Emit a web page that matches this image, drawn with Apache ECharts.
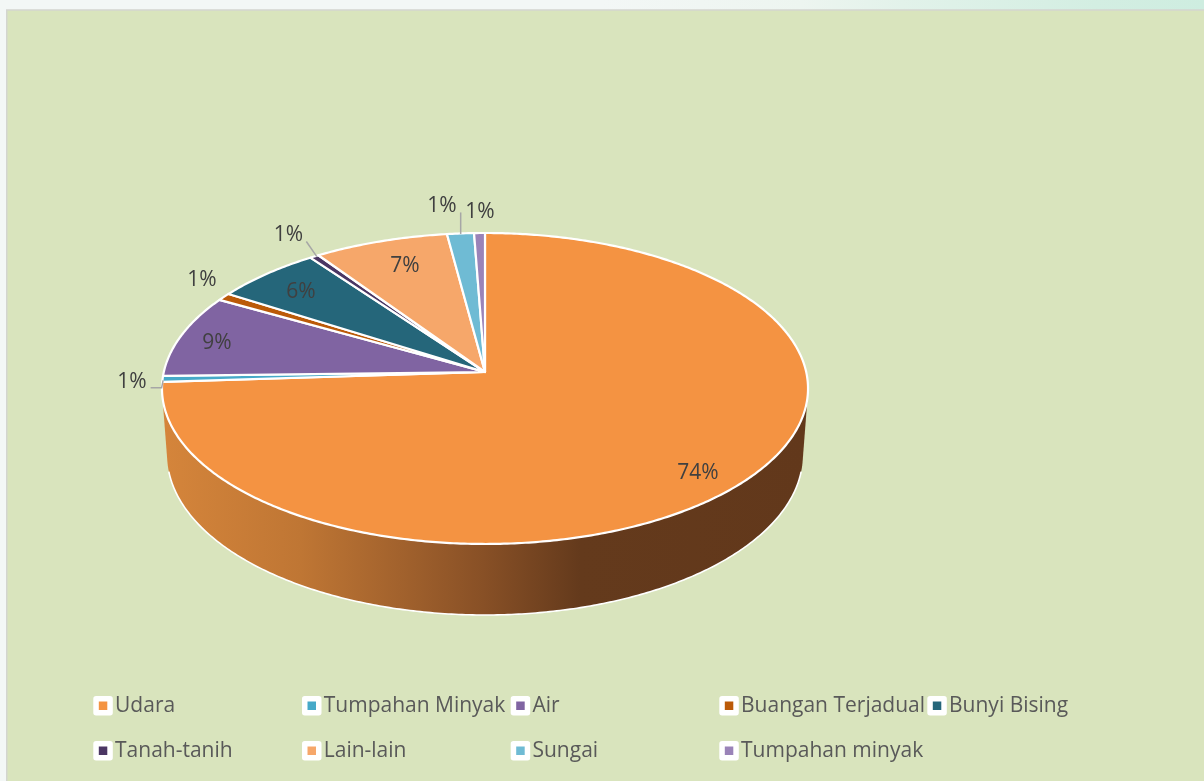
<!DOCTYPE html>
<html><head><meta charset="utf-8">
<style>html,body{margin:0;padding:0;background:#f3f7f6}#c{width:1204px;height:781px}</style>
<script src="https://cdn.jsdelivr.net/npm/echarts@6/dist/echarts.min.js"></script>
</head><body><div id="c"></div>
<script>
const categories = ['Udara','Tumpahan Minyak','Air','Buangan Terjadual','Bunyi Bising','Tanah-tanih','Lain-lain','Sungai','Tumpahan minyak'];
const values = [73.99,0.62,8.6,0.8,5.94,0.51,7.45,1.49,0.6];
const colors = ['#f49342','#46a9c8','#8064a2','#bb5a08','#25667a','#4b3663','#f6a76a','#6fbbd4','#9a83b8'];
const legendColumns = [[0,5],[1,6],[2,7],[3,8],[4]];

// layout and projection of the tilted disc (style, not data)
const APEX = [485, 372], A = 321.2, B = 153.75, K = 0.106, DEPTH = 67.4, M = 0.016;
const labelOffsets = [[-39.5,-12.6],[-30.6,3.5],[35.7,7.7],[-22,-16.6],[34.6,18],[-26,-21.5],[24.3,24.7],[-18.5,-27.5],[0.5,-21]];
const leaderPaths = {1:[[-12,9],[-1,9],[0.5,1.5]], 5:[[-8,-15],[2.5,0.2]], 7:[[0.2,-21],[0.2,0.5]]};
const legendLefts = [93.3,302,510.7,719.3,927.3];
const FONT = '21px "Open Sans"';

const total = values.reduce((a,b)=>a+b,0);
const starts = []; { let c = 0; values.forEach(v=>{ starts.push(c/total*2*Math.PI); c += v; }); }
const ends = values.map((v,i)=> starts[i] + v/total*2*Math.PI);
function rimTop(t){ const u=Math.sin(t), v=Math.cos(t), w=1+K*v; return [APEX[0]+A*u/w, APEX[1]-B*v/w]; }
function rimLow(t){ const u=Math.sin(t), v=Math.cos(t), w=1+K*v+M; return [APEX[0]+A*u/w, APEX[1]+(DEPTH-B*v)/w]; }
function arc(f,a,b){ const n=Math.max(2,Math.ceil((b-a)/0.01)), p=[]; for(let i=0;i<=n;i++) p.push(f(a+(b-a)*i/n)); return p; }
function hull(pts){
  const s=pts.slice().sort((p,q)=>p[0]-q[0]||p[1]-q[1]);
  const cross=(o,a,b)=>(a[0]-o[0])*(b[1]-o[1])-(a[1]-o[1])*(b[0]-o[0]);
  const half=list=>{const h=[];list.forEach(p=>{while(h.length>1&&cross(h[h.length-2],h[h.length-1],p)<=0)h.pop();h.push(p);});h.pop();return h;};
  return half(s).concat(half(s.slice().reverse()));
}
const wallFill = new echarts.graphic.LinearGradient(162,0,808,0,[
  {offset:0,color:'#d5853b'},{offset:0.214,color:'#bf7634'},{offset:0.368,color:'#a2622d'},
  {offset:0.497,color:'#885026'},{offset:0.647,color:'#643a1c'},{offset:1,color:'#62381b'}],true);

const wallSeries = {
  type:'custom', coordinateSystem:'none', silent:true, z:1, data:[total],
  renderItem(){
    const full=2*Math.PI;
    const body=hull(arc(rimTop,0,full).concat(arc(rimLow,0,full)));
    const rim=arc(rimLow,0,full).filter((p,k,all)=>Math.cos(full*k/(all.length-1))<-0.2);
    return {type:'group',children:[
      {type:'polygon',shape:{points:body},style:{fill:wallFill}},
      {type:'polyline',shape:{points:rim},style:{fill:null,stroke:'#fff',lineWidth:1.6}}
    ]};
  }
};
const topSeries = categories.map((name,i)=>({
  type:'custom', name, coordinateSystem:'none', silent:true, z:2, data:[values[i]], itemStyle:{color:colors[i]},
  renderItem(){
    return {type:'polygon',shape:{points:[APEX].concat(arc(rimTop,starts[i],ends[i]))},
      style:{fill:colors[i],stroke:'#fff',lineWidth:2.2,lineJoin:'round'}};
  }
}));
const labelSeries = {
  type:'custom', coordinateSystem:'none', silent:true, z:3, data:values,
  renderItem(params){
    const i=params.dataIndex, rim=rimTop((starts[i]+ends[i])/2), o=labelOffsets[i], children=[];
    if(leaderPaths[i]) children.push({type:'polyline',shape:{points:leaderPaths[i].map(d=>[rim[0]+d[0],rim[1]+d[1]])},style:{fill:null,stroke:'#a6a6a6',lineWidth:1.5}});
    children.push({type:'text',style:{x:rim[0]+o[0],y:rim[1]+o[1],text:Math.round(values[i]/total*100)+'%',font:FONT,fill:'#404040',align:'center',verticalAlign:'middle'}});
    return {type:'group',children};
  }
};
const legends = legendColumns.map((col,k)=>({
  orient:'vertical', left:legendLefts[k], top:693.5, padding:0, itemGap:20.5, selectedMode:false,
  data:col.map(i=>categories[i]), icon:'rect', itemWidth:14, itemHeight:14,
  itemStyle:{borderColor:'#fff',borderWidth:5.5,borderJoin:'round'},
  textStyle:{fontFamily:'"Open Sans"',fontSize:21,color:'#595959',lineHeight:24.5}
}));
const chart = echarts.init(document.getElementById('c'),null,{renderer:'canvas'});
chart.setOption({
  animation:false,
  backgroundColor:'#f3f7f6',
  graphic:[
    {type:'rect',z:-2,shape:{x:0,y:0,width:1204,height:12},style:{fill:new echarts.graphic.LinearGradient(0,0,1,0,[{offset:0,color:'#f3f7f6'},{offset:0.5,color:'#f3f7f6'},{offset:0.665,color:'#edf5f0'},{offset:0.75,color:'#e2f2ea'},{offset:0.91,color:'#d3eee2'},{offset:1,color:'#ceede0'}])}},
    {type:'rect',z:-1,shape:{x:6.75,y:10,width:1200,height:775},style:{fill:'#d9e4bd',stroke:'#d3d5cf',lineWidth:1.5}}
  ],
  legend:legends,
  series:[wallSeries].concat(topSeries,[labelSeries])
});
</script></body></html>
